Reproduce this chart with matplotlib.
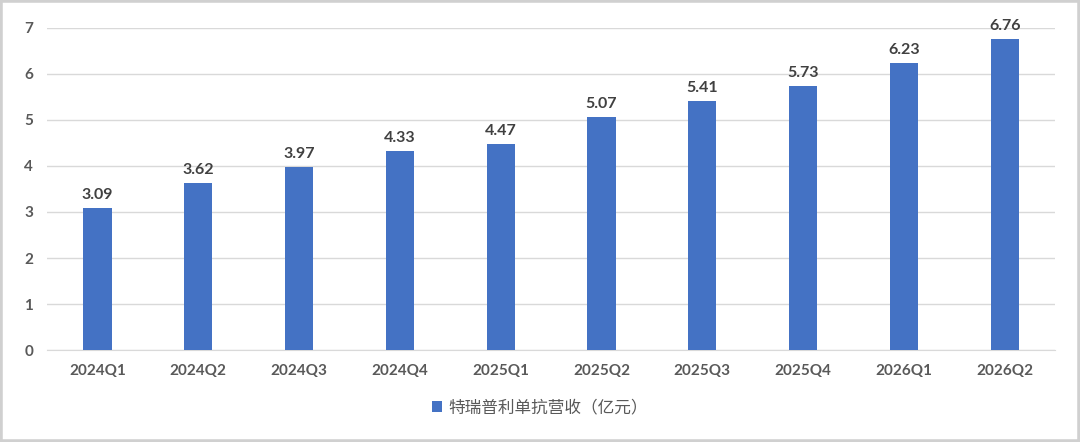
import matplotlib
matplotlib.use("Agg")
import matplotlib.pyplot as plt
from matplotlib.patches import Rectangle

quarters = ["2024Q1", "2024Q2", "2024Q3", "2024Q4", "2025Q1",
            "2025Q2", "2025Q3", "2025Q4", "2026Q1", "2026Q2"]
revenue = [3.09, 3.62, 3.97, 4.33, 4.47, 5.07, 5.41, 5.73, 6.23, 6.76]
legend_label = "特瑞普利单抗营收（亿元）"

plt.rcParams['font.family'] = ['Lato', 'Noto Sans CJK SC', 'DejaVu Sans']

fig = plt.figure(figsize=(10.8, 4.42), dpi=100)
ax = fig.add_axes([0.0435, 0.208, 0.9335, 0.729])

bars = ax.bar(range(len(quarters)), revenue, width=0.28, color="#4472C4",
              label=legend_label, zorder=3)
for i, v in enumerate(revenue):
    ax.text(i, v + 0.13, f"{v:.2f}", ha="center", va="bottom",
            fontsize=11.5, fontweight="bold", color="#404040")

ax.set_xlim(-0.5, len(quarters) - 0.5)
ax.set_ylim(0, 7)
ax.set_yticks(range(0, 8))
ax.set_xticks(range(len(quarters)))
ax.set_xticklabels(quarters)
ax.tick_params(axis="both", length=0, labelsize=11, labelcolor="#595959")
ax.tick_params(axis="x", pad=10)
ax.tick_params(axis="y", pad=10)
for lab in ax.get_xticklabels() + ax.get_yticklabels():
    lab.set_fontweight("bold")
ax.grid(axis="y", color="#d9d9d9", linewidth=1, zorder=0)
for s in ["top", "right", "left"]:
    ax.spines[s].set_visible(False)
ax.spines["bottom"].set_color("#d9d9d9")

leg = fig.legend(handles=[bars], labels=[legend_label], loc="center",
                 bbox_to_anchor=(0.5, 0.077), frameon=False, handlelength=0.6,
                 handleheight=0.6, handletextpad=0.4,
                 prop={"family": ["Noto Sans CJK SC"], "size": 12})
for t in leg.get_texts():
    t.set_color("#595959")

fig.patches.append(Rectangle((0, 0), 1, 1, transform=fig.transFigure,
                             fill=False, edgecolor="#d0d0d0", linewidth=4))

fig.savefig("out.png", dpi=100)
